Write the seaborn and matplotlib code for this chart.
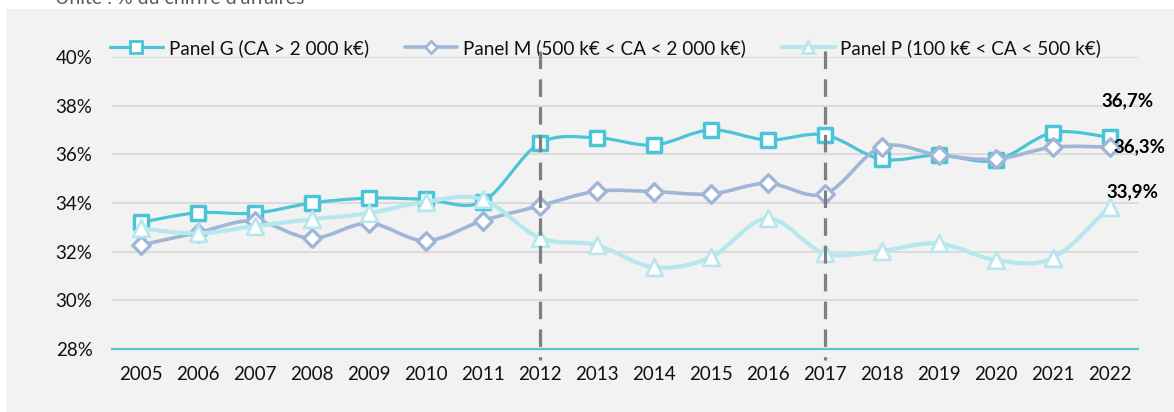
import numpy as np
import pandas as pd
import matplotlib
matplotlib.use("Agg")
import matplotlib.pyplot as plt
import seaborn as sns
from matplotlib.path import Path
from matplotlib.patches import PathPatch, Rectangle
from matplotlib.lines import Line2D

# ---------------- data ----------------
years = ["2005", "2006", "2007", "2008", "2009", "2010", "2011", "2012", "2013",
         "2014", "2015", "2016", "2017", "2018", "2019", "2020", "2021", "2022"]
panel_g = [33.2, 33.6, 33.58, 34.0, 34.2, 34.15, 34.05, 36.45, 36.68, 36.38,
           37.0, 36.59, 36.8, 35.8, 35.97, 35.75, 36.89, 36.7]
panel_m = [32.27, 32.78, 33.27, 32.55, 33.17, 32.45, 33.27, 33.88, 34.48, 34.47,
           34.37, 34.81, 34.37, 36.31, 35.97, 35.8, 36.29, 36.3]
panel_p = [32.96, 32.75, 33.05, 33.33, 33.58, 34.05, 34.15, 32.57, 32.27, 31.36,
           31.77, 33.37, 31.93, 32.04, 32.34, 31.66, 31.73, 33.85]
series_names = ["Panel G (CA > 2 000 k€)",
                "Panel M (500 k€ < CA < 2 000 k€)",
                "Panel P (100 k€ < CA < 500 k€)"]
end_labels = ["36,7%", "36,3%", "33,9%"]
y_ticks = [28, 30, 32, 34, 36, 38, 40]
y_tick_labels = ["28%", "30%", "32%", "34%", "36%", "38%", "40%"]
break_years = ["2012", "2017"]
subtitle = "Unité : % du chiffre d'affaires"

# ---------------- style ----------------
sns.set_theme(style="white")
plt.rcParams["font.family"] = ["Lato", "DejaVu Sans"]

W, H, DPI = 1174, 412, 100
fig = plt.figure(figsize=(W / DPI, H / DPI), dpi=DPI, facecolor="white")

# grey panel
fig.patches.append(Rectangle((6 / W, 0), 1 - 6 / W, (H - 9) / H,
                             transform=fig.transFigure, facecolor="#F2F2F2",
                             edgecolor="none", zorder=-10))
fig.text(55 / W, 1 - 4 / H, subtitle, fontsize=14, color="#595959",
         va="baseline", ha="left")

ax = fig.add_axes([112 / W, 1 - 349 / H, (1138 - 112) / W, (349 - 57) / H])
ax.set_facecolor("none")
ax.set_zorder(1)

colors = ["#4AC4D6", "#A0B6D7", "#B7E7EE"]
markers = ["s", "D", "^"]
lws = [2.3, 2.6, 3.0]
msizes = [100, 80, 145]
mews = [2.5, 2.4, 1.9]
values = [panel_g, panel_m, panel_p]

x = np.arange(len(years))
df = pd.DataFrame({"x": np.tile(x, 3),
                   "year": years * 3,
                   "value": panel_g + panel_m + panel_p,
                   "series": np.repeat(series_names, len(years))})


def smooth_path(xs, ys):
    pts = np.column_stack([xs, ys]).astype(float)
    n = len(pts)
    verts = [pts[0]]
    codes = [Path.MOVETO]
    for i in range(n - 1):
        pp = pts[max(i - 1, 0)]
        p0 = pts[i]
        p1 = pts[i + 1]
        pn = pts[min(i + 2, n - 1)]
        c1 = p0 + (p1 - pp) / 6.0
        c2 = p1 - (pn - p0) / 6.0
        verts += [c1, c2, p1]
        codes += [Path.CURVE4] * 3
    return Path(verts, codes)


for k, name in enumerate(series_names):
    sub = df[df["series"] == name]
    patch = PathPatch(smooth_path(sub["x"].values, sub["value"].values),
                      facecolor="none", edgecolor=colors[k], lw=lws[k],
                      capstyle="round", joinstyle="round", zorder=3 + k)
    ax.add_patch(patch)
    sns.scatterplot(data=sub, x="x", y="value", marker=markers[k], s=msizes[k],
                    color="white", edgecolor=colors[k], linewidth=mews[k],
                    ax=ax, zorder=3.5 + k, legend=False)

# dashed vertical break lines
for by in break_years:
    xi = years.index(by)
    ax.plot([xi, xi], [40.25, 27.55], color="#7F7F7F", lw=2.3,
            dashes=(5.5, 3.2), clip_on=False, zorder=10)

# end labels
offsets = [(-6, 26), (3, 0), (-2, 11)]
idx_last = len(years) - 1
for k in range(3):
    ax.annotate(end_labels[k], (idx_last, values[k][-1]),
                xytext=offsets[k], textcoords="offset points",
                fontsize=13.5, fontweight="bold", color="black",
                ha="left", va="center", zorder=11, annotation_clip=False)

# axes formatting
ax.set_xlim(-0.5, len(years) - 0.5)
ax.set_ylim(28, 40)
ax.set_xticks(x)
ax.set_xticklabels(years)
ax.set_yticks(y_ticks)
ax.set_yticklabels(y_tick_labels)
ax.set_xlabel("")
ax.set_ylabel("")
ax.tick_params(axis="both", length=0, labelsize=13.5, labelcolor="#111111")
ax.tick_params(axis="y", pad=14)
ax.tick_params(axis="x", pad=12)
for y in y_ticks[1:]:
    ax.axhline(y, color="#D9D9D9", lw=1.3, zorder=1)
for s in ["top", "right", "left"]:
    ax.spines[s].set_visible(False)
ax.spines["bottom"].set_color("#5BC5D5")
ax.spines["bottom"].set_linewidth(1.6)
ax.grid(False)

# legend
handles = []
leg_ms = [8.5, 6.5, 8.5]
for k in range(3):
    handles.append(Line2D([0], [0], color=colors[k], lw=lws[k], marker=markers[k],
                          markersize=leg_ms[k], markerfacecolor="white",
                          markeredgecolor=colors[k], markeredgewidth=2.0))
leg = ax.legend(handles, series_names, ncol=3, loc="lower left",
                bbox_to_anchor=(-0.002, 1.0), frameon=False, fontsize=13.6,
                handlelength=2.8, handletextpad=0.3, columnspacing=1.9,
                borderaxespad=0, borderpad=0)
for t in leg.get_texts():
    t.set_color("#111111")

fig.savefig("out.png", dpi=DPI, facecolor="white")
